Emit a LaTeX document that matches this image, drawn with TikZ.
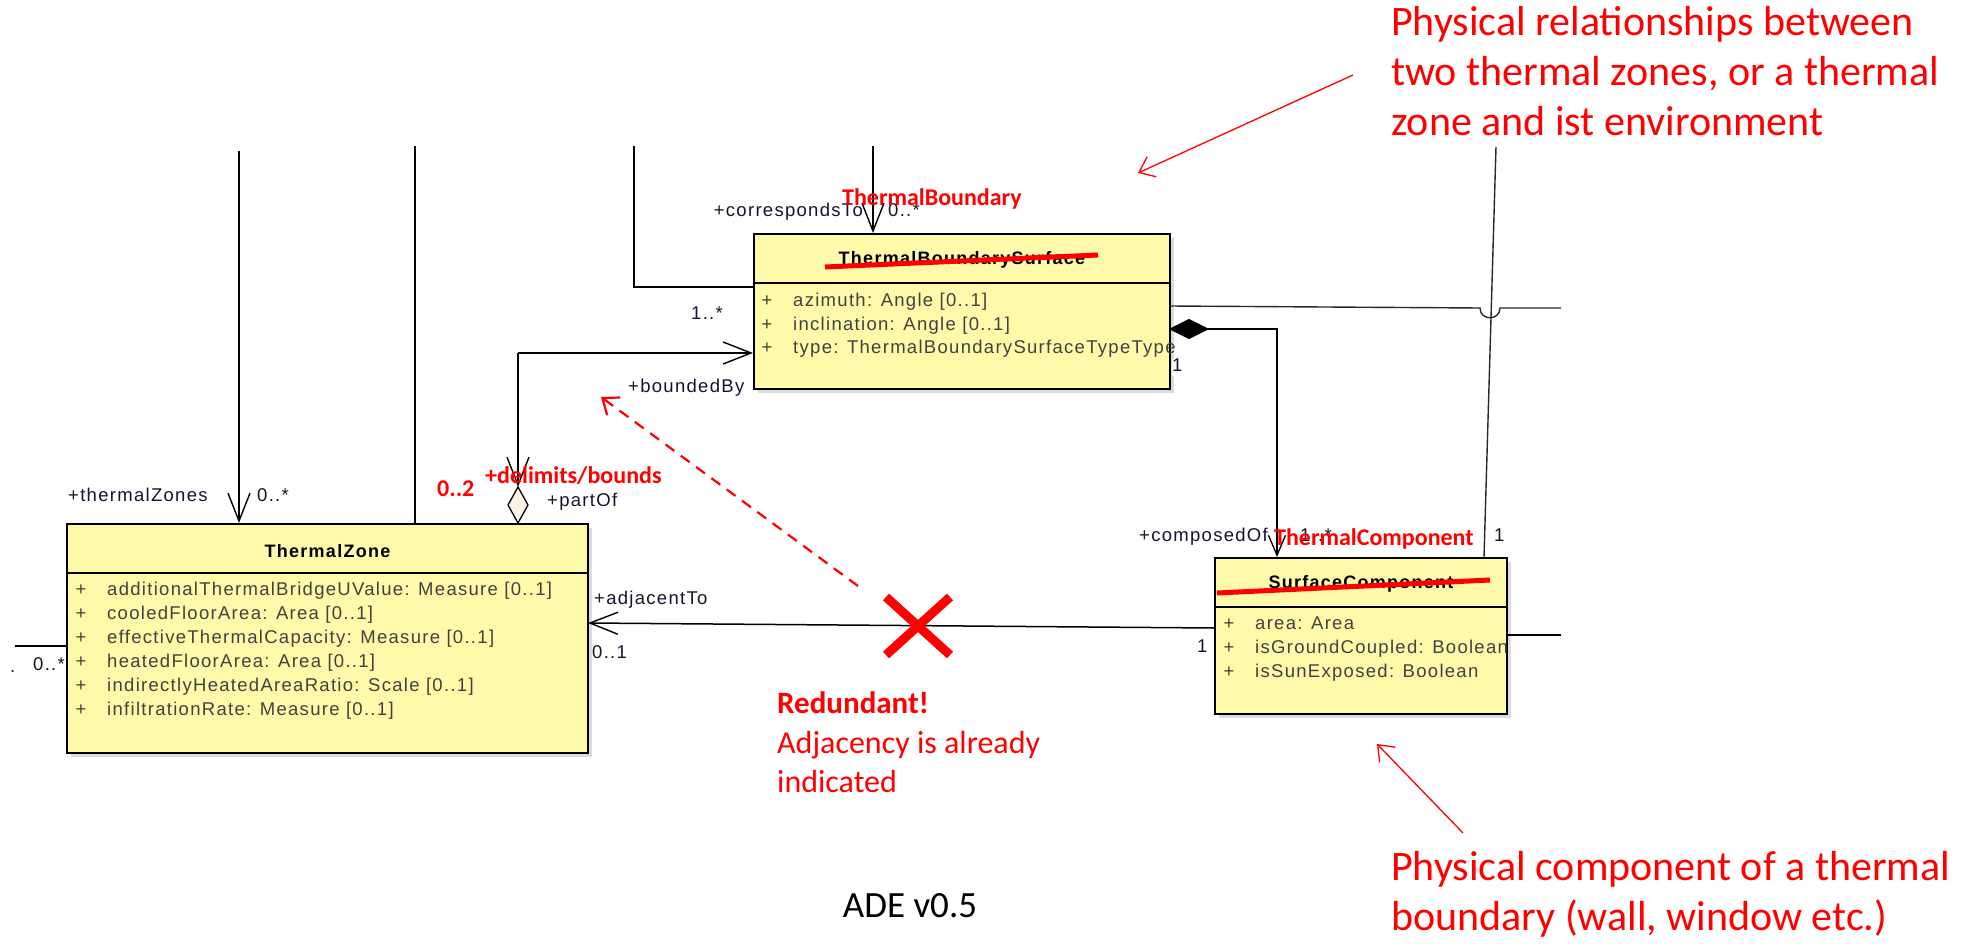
\documentclass[tikz,border=0pt]{standalone}
\usepackage{fontspec}
\setmainfont{Liberation Sans}
\newfontfamily\umlfam{Liberation Sans}[LetterSpace=7]
\newfontfamily\calfam{Carlito}
\usetikzlibrary{arrows.meta,shadows}
\definecolor{umlyellow}{RGB}{255,250,170}
\definecolor{labc}{RGB}{20,20,45}
\definecolor{attrc}{RGB}{65,65,65}
\definecolor{aggfill}{RGB}{250,243,230}
\definecolor{hopc}{RGB}{40,40,40}
\newcommand\umlf{\umlfam\fontsize{18.5}{22}\selectfont}
\newcommand\umlbf{\umlfam\bfseries\fontsize{18}{22}\selectfont}
\newcommand\redbf{\calfam\bfseries\fontsize{24}{28}\selectfont}
\newcommand\annf{\calfam\fontsize{42}{50}\selectfont}
\newcommand\notef{\calfam\fontsize{32}{39}\selectfont}
\newcommand\notebf{\calfam\bfseries\fontsize{31}{39}\selectfont}
\tikzset{
  classbox/.style={draw=black, line width=2pt, fill=umlyellow, rectangle, inner sep=0pt, anchor=north west,
    drop shadow={shadow xshift=4pt, shadow yshift=-4pt, fill=black!30, opacity=0.45}},
  ctitle/.style={font=\umlbf, text=black, inner sep=0pt},
  plus/.style={font=\umlf, text=attrc, inner sep=0pt, text height=13pt, text depth=4pt},
  attr/.style={font=\umlf, text=attrc, inner sep=0pt, anchor=west, text height=13pt, text depth=4pt},
  lbl/.style={font=\umlf, text=labc, inner sep=0pt, text height=13pt, text depth=4pt},
  redlbl/.style={font=\redbf, text=red, inner sep=0pt, anchor=base west},
  annot/.style={font=\annf, text=red, inner sep=0pt, anchor=base west},
  assoc/.style={draw=black, line width=1.6pt},
  thinline/.style={draw=hopc, line width=1.4pt},
  openarr/.style={-{Straight Barb[length=28pt,width=22pt,line width=1.4pt]}},
  smallarr/.style={-{Straight Barb[length=20pt,width=17pt,line width=1.3pt]}},
  redarr/.style={draw=red, line width=1.3pt, -{Straight Barb[length=14pt,width=22pt,line width=1.3pt]}},
  reddash/.style={draw=red, line width=2.2pt, dash pattern=on 11pt off 8pt, -{Straight Barb[length=14pt,width=22pt,line width=2.2pt]}},
  strike/.style={draw=red, line width=5pt},
  xmark/.style={draw=red, line width=9pt},
}
\begin{document}
\begin{tikzpicture}[x=1pt,y=-1pt]
\useasboundingbox (0,0) rectangle (1966,944);

% ---------- class boxes ----------
\node[classbox, minimum width=521pt, minimum height=229pt] (tz) at (66,523) {};
\node[classbox, minimum width=416pt, minimum height=155pt] (tbs) at (753,233) {};
\node[classbox, minimum width=292pt, minimum height=156pt] (sc) at (1214,557) {};

\draw[line width=2pt] ([yshift=-50pt]tz.north west) -- ([yshift=-50pt]tz.north east);
\draw[line width=2pt] ([yshift=-50pt]tbs.north west) -- ([yshift=-50pt]tbs.north east);
\draw[line width=2pt] ([yshift=-50pt]sc.north west) -- ([yshift=-50pt]sc.north east);

\node[ctitle] (tzt) at ([yshift=-28pt]tz.north) {ThermalZone};
\node[ctitle] (tbst) at ([yshift=-27pt]tbs.north) {ThermalBoundarySurface};
\node[ctitle] (sct) at ([yshift=-27pt]sc.north) {SurfaceComponent};

\foreach \t [count=\i] in {{additionalThermalBridgeUValue: Measure [0..1]},{cooledFloorArea: Area [0..1]},{effectiveThermalCapacity: Measure [0..1]},{heatedFloorArea: Area [0..1]},{indirectlyHeatedAreaRatio: Scale [0..1]},{infiltrationRate: Measure [0..1]}}{
  \node[plus] (tzp\i) at ([xshift=15pt,yshift={-(68+24*(\i-1))*1pt}]tz.north west) {+};
  \node[attr] (tza\i) at ([xshift=41pt,yshift={-(68+24*(\i-1))*1pt}]tz.north west) {\t};
}
\foreach \t [count=\i] in {{azimuth: Angle [0..1]},{inclination: Angle [0..1]},{type: ThermalBoundarySurfaceTypeType}}{
  \node[plus] (tbp\i) at ([xshift=14pt,yshift={-(69+23.5*(\i-1))*1pt}]tbs.north west) {+};
  \node[attr] (tba\i) at ([xshift=40pt,yshift={-(69+23.5*(\i-1))*1pt}]tbs.north west) {\t};
}
\foreach \t [count=\i] in {{area: Area},{isGroundCoupled: Boolean},{isSunExposed: Boolean}}{
  \node[plus] (scp\i) at ([xshift=15pt,yshift={-(68+24*(\i-1))*1pt}]sc.north west) {+};
  \node[attr] (sca\i) at ([xshift=41pt,yshift={-(68+24*(\i-1))*1pt}]sc.north west) {\t};
}

% ---------- connectors ----------
\coordinate (topA) at (239,151);
\coordinate (topB) at (415,146);
\coordinate (topC) at (634,146);
\coordinate (topD) at (873,146);
\coordinate (cornC) at (634,287);
\draw[assoc, openarr] (topA) -- (topA |- tz.north);
\draw[assoc] (topB) -- (topB |- tz.north);
\draw[assoc] (topC) -- (cornC) -- (cornC -| tbs.west);
\draw[assoc, openarr] (topD) -- (topD |- tbs.north);

% aggregation ThermalZone -- ThermalBoundarySurface
\coordinate (agg) at (518,523);
\coordinate (aggtop) at (518,487);
\coordinate (bcorner) at (518,353);
\draw[line width=1.3pt, fill=aggfill] (agg) -- ++(10,-18) -- ++(-10,-18) -- ++(-10,18) -- cycle;
\draw[assoc, openarr] (bcorner) -- (aggtop);
\draw[assoc, openarr] (bcorner) -- (bcorner -| tbs.west);

% adjacentTo
\coordinate (adjR) at (1214,628);
\coordinate (adjL) at (588,623);
\draw[line width=1.5pt, openarr] (adjR) -- (adjL);

% composition ThermalBoundarySurface -- SurfaceComponent
\coordinate (compL) at (1170,329);
\coordinate (compR) at (1208,329);
\coordinate (compC) at (1277,329);
\draw[fill=black, line width=1pt] (compL) -- ++(19,-9.5) -- (compR) -- ++(-19,9.5) -- cycle;
\draw[assoc, smallarr] (compR) -- (compC) -- (compC |- sc.north);

% right-hand lines with hop
\coordinate (hopS) at (1170,306);
\coordinate (hopA) at (1480,308);
\coordinate (hopB) at (1500,308);
\coordinate (hopE) at (1561,308);
\draw[thinline] (hopS) -- (hopA) .. controls (1480,321) and (1500,321) .. (hopB) -- (hopE);
\coordinate (slT) at (1496,147);
\coordinate (slB) at (1484,557);
\draw[thinline] (slT) -- (slB);
\coordinate (scR) at (1561,635);
\draw[assoc] (scR -| sc.east) -- (scR);
\coordinate (lfE) at (15,646);
\draw[assoc] (lfE) -- (lfE -| tz.west);

% ---------- UML labels ----------
\node[lbl, anchor=west] (lTZ) at (68,497) {+thermalZones};
\node[lbl, anchor=west] (lTZm) at (257,497) {0..*};
\node[lbl, anchor=west] (lpart) at (547,502) {+partOf};
\node[lbl, anchor=west] (l1s) at (691,315) {1..*};
\node[lbl, anchor=west] (lbb) at (628,388) {+boundedBy};
\node[lbl, anchor=east] (lcor) at (863,212) {+correspondsTo};
\node[lbl, anchor=west] (lcorm) at (888,212) {0..*};
\node[lbl, anchor=west] (ladj) at (594,600) {+adjacentTo};
\node[lbl, anchor=west] (ladjm) at (592,654) {0..1};
\node[lbl, anchor=west, fill=white] (lone1) at (1172,367) {1};
\node[lbl, anchor=east] (lcomp) at (1268,537) {+composedOf};
\node[lbl, anchor=west] (lcompm) at (1300,537) {1..*};
\node[lbl, anchor=west] (lone2) at (1494,537) {1};
\node[lbl, anchor=west] (lone3) at (1197,648) {1};
\node[lbl, anchor=west] (lleft) at (33,666) {0..*};
\node[lbl, anchor=west] (ldot) at (10,668) {.};

% ---------- red edits ----------
\draw[strike] (825,267) -- (1098,255);
\draw[strike] (1217,593) -- (1490,580);
\node[redlbl] (lTB) at (842,206) {ThermalBoundary};
\node[redlbl] (lTC) at (1274,545) {ThermalComponent};
\node[redlbl] (l02) at (437,496) {0..2};
\node[redlbl] (ldel) at (485,483) {+delimits/bounds};

\coordinate (xc) at (918,626);
\draw[xmark] ([shift={(-32,-29)}]xc) -- ([shift={(32,29)}]xc);
\draw[xmark] ([shift={(-32,29)}]xc) -- ([shift={(32,-29)}]xc);

\coordinate (dS) at (858,586);
\coordinate (dE) at (601,397);
\draw[reddash] (dS) -- (dE);

\node[anchor=base west, font=\notebf, text=red, inner sep=0pt] (n1) at (777,713) {Redundant!};
\node[anchor=base west, font=\notef, text=red, inner sep=0pt] (n2) at (777,753) {Adjacency is already};
\node[anchor=base west, font=\notef, text=red, inner sep=0pt] (n3) at (777,792) {indicated};

% ---------- annotations ----------
\node[annot] (a1) at (1391,36) {Physical relationships between};
\node[annot] (a2) at (1391,86) {two thermal zones, or a thermal};
\node[annot] (a3) at (1391,136) {zone and ist environment};
\coordinate (p1s) at (1353,75);
\coordinate (p1e) at (1138,173);
\draw[redarr] (p1s) -- (p1e);

\node[annot] (b1) at (1391,880) {Physical component of a thermal};
\node[annot] (b2) at (1391,930) {boundary (wall, window etc.)};
\coordinate (p2s) at (1463,833);
\coordinate (p2e) at (1377,744);
\draw[redarr] (p2s) -- (p2e);

\node[anchor=base, font={\calfam\fontsize{37}{44}\selectfont}, text=black, inner sep=0pt] (ade) at (910,917) {ADE v0.5};
\end{tikzpicture}
\end{document}
